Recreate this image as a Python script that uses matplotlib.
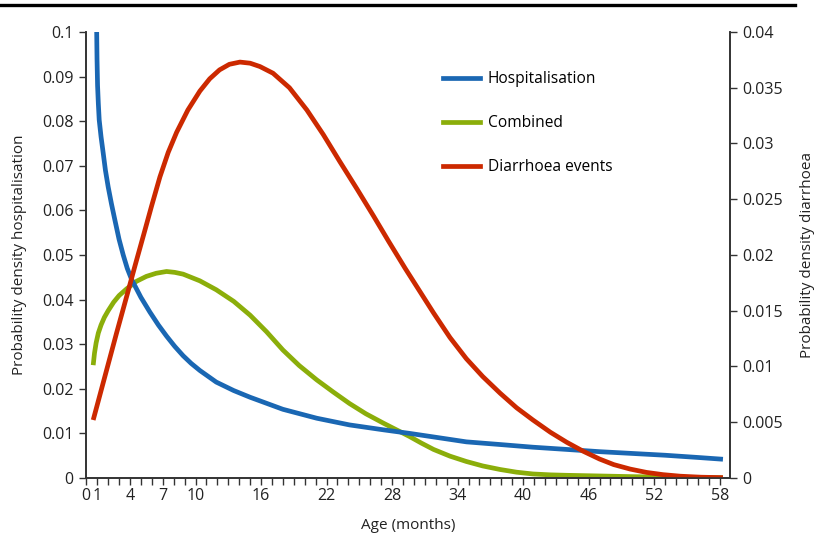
import matplotlib.pyplot as plt
from matplotlib.lines import Line2D
from matplotlib.ticker import FixedLocator

plt.rcParams['font.family'] = ['Open Sans', 'DejaVu Sans']

# age in months / density
hosp_age = [0.95, 0.98, 1.03, 1.1, 1.18, 1.35, 1.55, 1.75, 2.0, 2.3, 2.62, 3.0, 3.38, 3.75,
            4.15, 5.0, 5.82, 6.6, 7.35, 8.1, 8.87, 9.6, 10.4, 11.9, 13.5, 15.0, 18.0, 21.1,
            24.1, 27.2, 29.6, 31.8, 34.8, 37.9, 40.9, 44.0, 47.0, 50.0, 53.0, 56.0, 58.3]
hosp_val = [0.100, 0.094, 0.088, 0.084, 0.0803, 0.0765, 0.0728, 0.069, 0.0653, 0.0615,
            0.0578, 0.0535, 0.050, 0.047, 0.0445, 0.0405, 0.0372, 0.0343, 0.0318, 0.0295,
            0.0274, 0.0257, 0.0241, 0.0215, 0.0196, 0.0181, 0.0154, 0.0134, 0.0119, 0.0108,
            0.0100, 0.0092, 0.0081, 0.0075, 0.0069, 0.0064, 0.0059, 0.0055, 0.0051,
            0.0046, 0.0042]

comb_age = [0.63, 0.75, 0.9, 1.1, 1.35, 1.65, 2.0, 2.5, 3.0, 3.69, 4.6, 5.5, 6.4, 7.35, 8.1,
            8.87, 10.4, 11.9, 13.5, 15.0, 16.5, 18.0, 19.5, 21.1, 22.6, 24.1, 25.6, 27.2,
            28.4, 29.6, 30.7, 31.8, 33.3, 34.8, 36.3, 37.9, 39.4, 40.9, 42.5, 44.0, 47.0,
            50.0, 53.0, 56.0, 58.3]
comb_val = [0.0253, 0.0280, 0.0303, 0.0325, 0.0343, 0.0360, 0.0375, 0.0394, 0.0409, 0.0424,
            0.0441, 0.0452, 0.0459, 0.0463, 0.0461, 0.0457, 0.0442, 0.0422, 0.0396, 0.0365,
            0.0328, 0.0287, 0.0252, 0.0220, 0.0193, 0.0167, 0.0144, 0.0123, 0.0108, 0.0093,
            0.0078, 0.0064, 0.0049, 0.0037, 0.0027, 0.0019, 0.0013, 0.0009, 0.0007, 0.0006,
            0.00045, 0.0003, 0.0002, 0.0001, 0.00005]

diar_age = [0.63, 1.7, 2.77, 3.7, 4.45, 5.36, 5.98, 6.74, 7.5, 8.27, 9.3, 10.4, 11.3, 12.2,
            13.1, 14.07, 15.0, 15.9, 17.1, 18.6, 20.2, 21.7, 23.2, 24.8, 26.3, 27.7, 29.2,
            30.5, 31.8, 33.3, 34.8, 36.3, 37.9, 39.4, 40.9, 42.5, 44.0, 45.5, 47.0, 48.3,
            49.8, 51.3, 52.8, 54.4, 56.3, 58.3]
diar_val = [0.0052, 0.0091, 0.0130, 0.0163, 0.0190, 0.0222, 0.0244, 0.0270, 0.0292, 0.0310,
            0.0330, 0.0347, 0.0358, 0.0366, 0.0371, 0.0373, 0.0372, 0.0369, 0.0363, 0.0350,
            0.0330, 0.0308, 0.0284, 0.0259, 0.0235, 0.0212, 0.0188, 0.0168, 0.0148, 0.0126,
            0.0107, 0.0091, 0.0076, 0.0063, 0.0052, 0.0041, 0.0032, 0.0024, 0.0017, 0.0012,
            0.0008, 0.0005, 0.0003, 0.00016, 0.00007, 0.00003]

x_labels = [0, 1, 4, 7, 10, 16, 22, 28, 34, 40, 46, 52, 58]
left_ticks = [0, 0.01, 0.02, 0.03, 0.04, 0.05, 0.06, 0.07, 0.08, 0.09, 0.1]
left_labels = ['0', '0.01', '0.02', '0.03', '0.04', '0.05', '0.06', '0.07', '0.08', '0.09', '0.1']
right_ticks = [0, 0.005, 0.01, 0.015, 0.02, 0.025, 0.03, 0.035, 0.04]
right_labels = ['0', '0.005', '0.01', '0.015', '0.02', '0.025', '0.03', '0.035', '0.04']

blue = '#1a67b3'
green = '#8bae0a'
red = '#cc2900'
axis_col = '#333333'
text_col = '#222222'

fig = plt.figure(figsize=(8.22, 5.58), dpi=100)
ax = fig.add_axes([0.105, 0.1434, 0.783, 0.7993])
ax2 = ax.twinx()

lw = 3.4
ax.plot(comb_age, comb_val, color=green, lw=lw, solid_capstyle='butt', zorder=2)
ax.plot(hosp_age, hosp_val, color=blue, lw=lw, solid_capstyle='butt', zorder=3)
ax2.plot(diar_age, diar_val, color=red, lw=lw, solid_capstyle='butt')

ax.set_xlim(0, 58.94)
ax.set_ylim(0, 0.1)
ax2.set_ylim(0, 0.04)

ax.set_xticks(x_labels)
ax.set_xticklabels([str(v) for v in x_labels])
ax.xaxis.set_minor_locator(FixedLocator(range(0, 60)))
ax.set_yticks(left_ticks)
ax.set_yticklabels(left_labels)
ax2.set_yticks(right_ticks)
ax2.set_yticklabels(right_labels)

for a in (ax, ax2):
    a.spines['top'].set_visible(False)
    for s in ('left', 'right', 'bottom'):
        a.spines[s].set_color(axis_col)
        a.spines[s].set_linewidth(1.2)
    a.tick_params(which='both', direction='out', length=5, width=1, color=axis_col,
                  labelsize=11.5, labelcolor=text_col, pad=4)
ax.tick_params(axis='x', which='both', length=5, pad=2)

ax.set_xlabel('Age (months)', fontsize=11, color=text_col, labelpad=10)
ax.set_ylabel('Probability density hospitalisation', fontsize=11, color=text_col, labelpad=11)
ax2.set_ylabel('Probability density diarrhoea', fontsize=11, color=text_col, labelpad=12)

handles = [Line2D([], [], color=blue, lw=lw),
           Line2D([], [], color=green, lw=lw),
           Line2D([], [], color=red, lw=lw)]
ax2.legend(handles, ['Hospitalisation', 'Combined', 'Diarrhoea events'],
           loc='upper left', bbox_to_anchor=(0.531, 0.884), bbox_transform=fig.transFigure,
           frameon=False, fontsize=11.2, handlelength=2.4, handletextpad=0.5,
           labelspacing=1.8, borderaxespad=0)

# rule across the top of the figure
fig.add_artist(Line2D([0.0, 0.967], [0.991, 0.991], color='black', lw=2.4,
                      transform=fig.transFigure))

fig.savefig('out.png', dpi=100)
